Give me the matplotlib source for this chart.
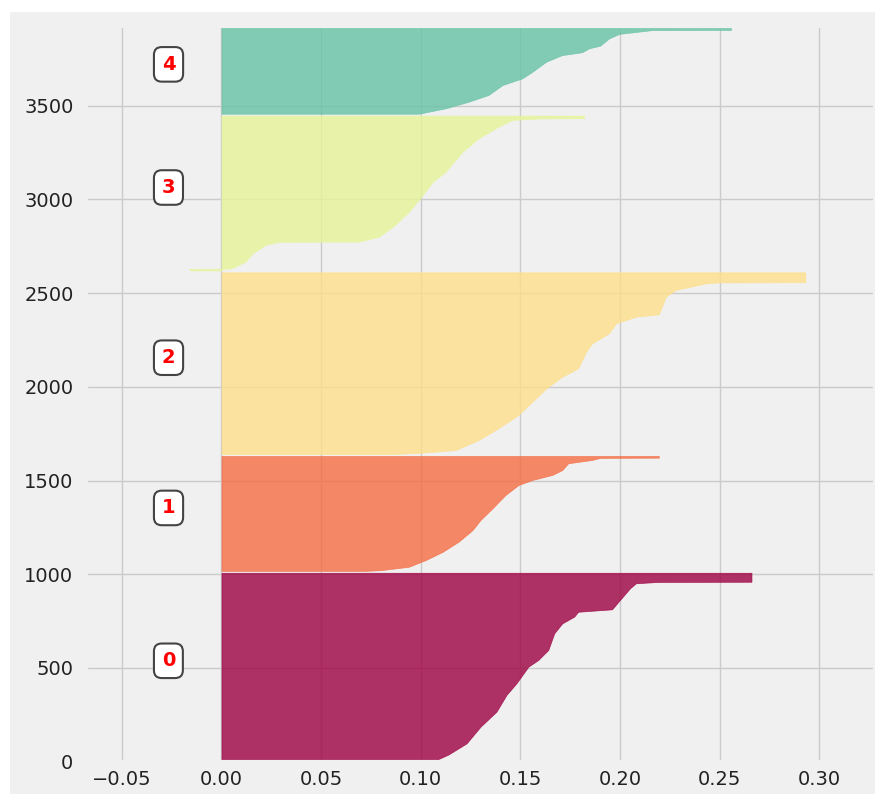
import numpy as np
import matplotlib
matplotlib.use('Agg')
import matplotlib.pyplot as plt
from matplotlib import cm
from matplotlib.patches import Rectangle

# Sorted silhouette values per cluster, given as (rank within cluster, value) vertices
cluster_sizes = [998, 613, 970, 826, 468]

c0_rank = [0, 29, 88, 177, 257, 346, 408, 497, 533, 586, 675, 728, 764, 790, 803, 853, 915, 942, 949, 950, 998]
c0_vals = [0.108, 0.114, 0.123, 0.130, 0.138, 0.143, 0.148, 0.154, 0.159, 0.164, 0.167, 0.171,
           0.177, 0.179, 0.196, 0.200, 0.205, 0.208, 0.219, 0.266, 0.266]

c1_rank = [0, 4, 22, 58, 102, 156, 218, 272, 334, 405, 458, 485, 512, 538, 574, 592, 603, 604, 613]
c1_vals = [0.072, 0.080, 0.094, 0.1025, 0.111, 0.119, 0.126, 0.130, 0.136, 0.1425, 0.149, 0.156,
           0.166, 0.171, 0.174, 0.186, 0.190, 0.2195, 0.2195]

c2_rank = [0, 7, 22, 75, 138, 209, 280, 351, 413, 458, 547, 591, 645, 698, 733, 746, 840, 876, 911,
           916, 917, 970]
c2_vals = [0.085, 0.100, 0.1175, 0.129, 0.139, 0.149, 0.156, 0.163, 0.171, 0.179, 0.183, 0.186,
           0.1945, 0.198, 0.208, 0.2195, 0.223, 0.228, 0.243, 0.250, 0.293, 0.293]

c3_rank = [0, 8, 9, 13, 47, 91, 136, 153, 154, 180, 242, 313, 376, 473, 527, 634, 705, 767, 803,
           811, 812, 826]
c3_vals = [-0.016, -0.016, 0.003, 0.0054, 0.012, 0.0155, 0.022, 0.029, 0.069, 0.079, 0.087, 0.094,
           0.099, 0.106, 0.1125, 0.121, 0.129, 0.139, 0.146, 0.160, 0.182, 0.182]

c4_rank = [0, 29, 64, 100, 153, 189, 224, 278, 313, 328, 349, 363, 402, 426, 446, 447, 468]
c4_vals = [0.099, 0.1125, 0.124, 0.134, 0.141, 0.151, 0.156, 0.163, 0.171, 0.181, 0.1845, 0.190,
           0.1945, 0.1996, 0.216, 0.2557, 0.2557]

ranks = [c0_rank, c1_rank, c2_rank, c3_rank, c4_rank]
values = [c0_vals, c1_vals, c2_vals, c3_vals, c4_vals]
n_clusters = len(cluster_sizes)

x_ticks = [-0.05, 0.00, 0.05, 0.10, 0.15, 0.20, 0.25, 0.30]
y_ticks = [0, 500, 1000, 1500, 2000, 2500, 3000, 3500]

plt.style.use('fivethirtyeight')

fig = plt.figure(figsize=(8.75, 7.94), dpi=100, facecolor='white')
# gray panel behind the axes, leaving a thin white margin on the top and left
fig.add_artist(Rectangle((10 / 875, 0), 1, 1 - 12 / 794, transform=fig.transFigure,
                         facecolor='#f0f0f0', edgecolor='none', zorder=-1))
ax = fig.add_axes([86 / 875, 1 - 761.7 / 794, 1 - 86 / 875, (761.7 - 26) / 794])

y_lower = 10
for i in range(n_clusters):
    y_upper = y_lower + cluster_sizes[i]
    color = cm.Spectral(float(i) / n_clusters)
    y = y_lower + np.array(ranks[i], float)
    ax.fill_betweenx(y, 0, values[i], facecolor=color, edgecolor=color, alpha=0.8, linewidth=0.5)
    ax.text(-0.03, y_lower + 0.5 * cluster_sizes[i], str(i), color='red', fontweight='bold',
            fontsize=14,
            bbox=dict(boxstyle='round,pad=0.4', facecolor='white', edgecolor='#444444', linewidth=1.5))
    y_lower = y_upper + 10

ax.set_xlim(-0.068, 0.328)
ax.set_ylim(0, y_upper)
ax.set_xticks(x_ticks)
ax.set_yticks(y_ticks)
ax.tick_params(axis='x', pad=6, labelcolor='#222222')
ax.tick_params(axis='y', pad=9, labelcolor='#222222')
ax.set_axisbelow(True)

fig.savefig('out.png', dpi=100, facecolor='white')
